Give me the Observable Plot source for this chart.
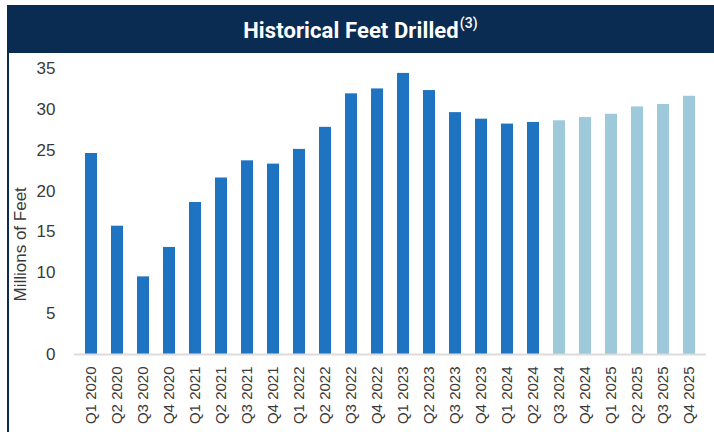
<!DOCTYPE html>
<html>
<head>
<meta charset="utf-8">
<script src="https://cdn.jsdelivr.net/npm/d3@7"></script>
<script src="https://cdn.jsdelivr.net/npm/@observablehq/plot@0.6"></script>
<style>
  html, body { margin: 0; padding: 0; background: #fff; width: 714px; height: 432px; overflow: hidden; }
  #title {
    position: absolute; left: 7px; top: 5px; width: 707px; height: 48px;
    background: #0a2b52; color: #fff;
    font-family: Roboto, "Liberation Sans", sans-serif; font-weight: 700; font-size: 22px;
    display: flex; align-items: center; justify-content: center; letter-spacing: 0.1px;
    padding-top: 2px; box-sizing: border-box;
  }
  #title sup { font-size: 14px; font-weight: 500; position: relative; top: -7px; margin-left: 1px; }
  #edge { position: absolute; left: 7px; top: 5px; width: 2px; height: 427px; background: #0a2b52; z-index: 2; }
  #chart { position: absolute; left: 0; top: 53px; }
</style>
</head>
<body>
<div id="title">Historical Feet Drilled<sup>(3)</sup></div>
<div id="edge"></div>
<div id="chart"></div>
<script>
// Quarterly feet drilled, millions of feet
const quarters = [
  "Q1 2020", "Q2 2020", "Q3 2020", "Q4 2020",
  "Q1 2021", "Q2 2021", "Q3 2021", "Q4 2021",
  "Q1 2022", "Q2 2022", "Q3 2022", "Q4 2022",
  "Q1 2023", "Q2 2023", "Q3 2023", "Q4 2023",
  "Q1 2024", "Q2 2024", "Q3 2024", "Q4 2024",
  "Q1 2025", "Q2 2025", "Q3 2025", "Q4 2025"
];
const feet = [
  24.6, 15.7, 9.5, 13.1,
  18.6, 21.6, 23.7, 23.3,
  25.1, 27.8, 31.9, 32.5,
  34.4, 32.3, 29.6, 28.8,
  28.2, 28.4, 28.6, 29.0,
  29.4, 30.3, 30.6, 31.6
];
const kind = [
  "Actual", "Actual", "Actual", "Actual",
  "Actual", "Actual", "Actual", "Actual",
  "Actual", "Actual", "Actual", "Actual",
  "Actual", "Actual", "Actual", "Actual",
  "Actual", "Actual", "Projected", "Projected",
  "Projected", "Projected", "Projected", "Projected"
];
const yTicks = [0, 5, 10, 15, 20, 25, 30, 35];
const yLabel = "Millions of Feet";

const rows = quarters.map((q, i) => ({ quarter: q, value: feet[i], kind: kind[i] }));

const chart = Plot.plot({
  width: 714,
  height: 379,
  marginTop: 15,
  marginBottom: 78,
  marginLeft: 74,
  marginRight: 8,
  style: { background: "transparent", fontFamily: "Arial, 'Liberation Sans', sans-serif", color: "#3a3a3a" },
  x: { domain: quarters, paddingInner: 0.53, paddingOuter: 0.1 },
  y: { domain: [0, 35] },
  color: { domain: ["Actual", "Projected"], range: ["#1f74c2", "#9dc9db"] },
  marks: [
    Plot.barY(rows, { x: "quarter", y: "value", fill: "kind" }),
    Plot.ruleY([0], { stroke: "#dcdcdc", strokeWidth: 2 }),
    Plot.axisY(yTicks, { tickSize: 0, tickPadding: 19, fontSize: 17, label: null }),
    Plot.axisX({ tickSize: 0, tickPadding: 12, tickRotate: -90, fontSize: 15, label: null }),
    Plot.text([yLabel], {
      text: d => d, frameAnchor: "left", rotate: -90,
      dx: -54, dy: 90, lineAnchor: "middle", fontSize: 17, fill: "#3a3a3a"
    })
  ]
});
document.getElementById("chart").appendChild(chart);
</script>
</body>
</html>
